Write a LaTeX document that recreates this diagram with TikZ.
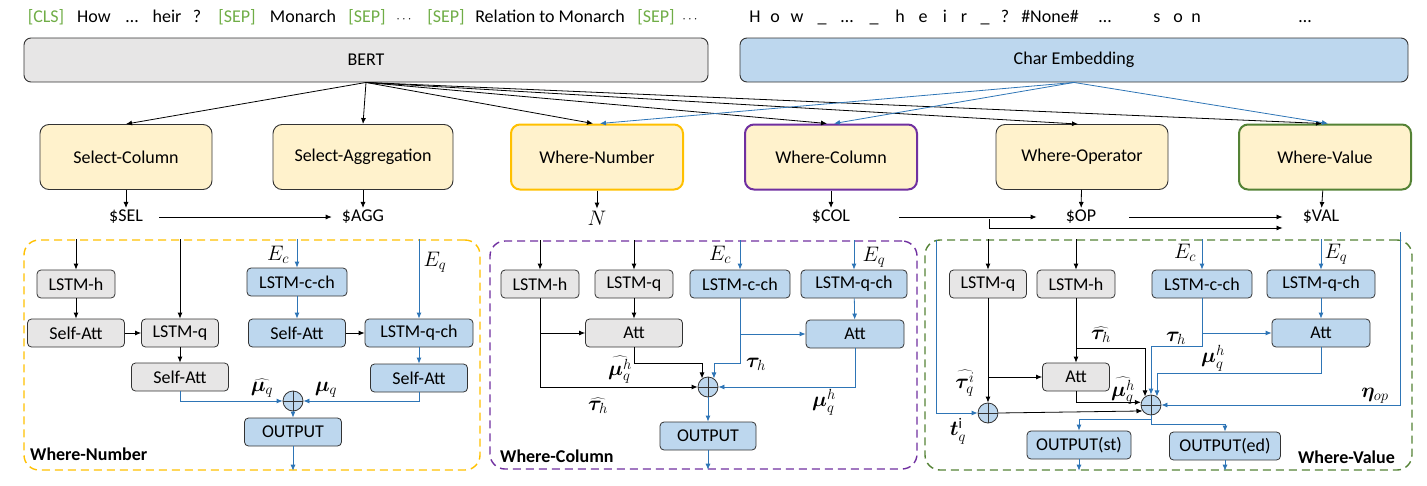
\documentclass[tikz,border=0pt]{standalone}
\usepackage{fix-cm}
\usepackage{fontspec}
\setmainfont{Carlito}
\usepackage{bm}
\usepackage{xcolor}
\usepackage{tikz}
\usetikzlibrary{arrows.meta,positioning,calc}

\definecolor{modfill}{HTML}{FFF2CC}
\definecolor{boxgray}{HTML}{E7E6E6}
\definecolor{boxblue}{HTML}{BDD7EE}
\definecolor{arrowblue}{HTML}{2E75B6}
\definecolor{wyellow}{HTML}{FFC000}
\definecolor{wpurple}{HTML}{7030A0}
\definecolor{wgreen}{HTML}{548235}
\definecolor{tokgreen}{HTML}{70AD47}

\newcommand{\greentok}[1]{\textcolor{tokgreen}{#1}}
\newcommand{\smalldots}{{\fontsize{13}{15}\selectfont$\cdots$}}

\begin{document}
\begin{tikzpicture}[x=1pt,y=-1pt,
	  every node/.style={font=\fontsize{18}{21}\selectfont,inner sep=2pt},
	  mathlbl/.style={font=\fontsize{21}{24}\selectfont,inner sep=1pt},
	  encoder/.style={draw=black!80,line width=0.9pt,rounded corners=7pt,minimum height=44pt},
	  module/.style={draw=black!80,line width=0.9pt,fill=modfill,rounded corners=9pt,minimum width=172pt,minimum height=65pt},
	  gbox/.style={draw=black!80,line width=0.8pt,fill=boxgray,rounded corners=4pt,minimum height=28pt},
	  bbox/.style={gbox,fill=boxblue},
	  panel/.style={dashed,dash pattern=on 8pt off 5pt,line width=1.4pt,rounded corners=15pt},
	  oplus/.style={circle,draw=black!80,line width=0.8pt,fill=boxblue,minimum size=20pt,inner sep=0pt,
	    path picture={\draw[line width=0.8pt,black!80] (path picture bounding box.north) -- (path picture bounding box.south)
	      (path picture bounding box.west) -- (path picture bounding box.east);}},
	  link/.style={-{Latex[length=6pt,width=5pt]},line width=0.8pt,black},
	  bluelink/.style={link,arrowblue}]

	  \useasboundingbox (0,0) rectangle (1427,485);

	  % input tokens
	  \foreach \x/\t [count=\i] in {46/{\greentok{[CLS]}},94/How,132/\dots,167/heir,197/?,237/{\greentok{[SEP]}},
	    303/Monarch,367/{\greentok{[SEP]}},404/\smalldots,446/{\greentok{[SEP]}},550/Relation to Monarch,
	    656/{\greentok{[SEP]}},690/\smalldots}
	    \node[anchor=base] (tok\i) at (\x,22) {\t};
	  \foreach \x/\t [count=\i] in {755/H,775/o,797/w,822/\_,847/\dots,874/\_,900/h,923/e,945/i,964/r,985/\_,
	    1005/?,1050/\#None\#,1105/\dots,1157/s,1178/o,1196/n,1305/\dots}
	    \node[anchor=base] (chr\i) at (\x,22) {\t};

	  % encoders
	  \node[encoder,fill=boxgray,minimum width=684pt] (bert) at (366,60) {BERT};
	  \node[encoder,fill=boxblue,minimum width=668pt] (charemb) at (1074,60) {Char Embedding};

	  % sub-modules
	  \node[module] (selcol) at (126,157) {Select-Column};
	  \node[module,minimum width=180pt] (selagg) at (363,157) {Select-Aggregation};
	  \node[module,draw=wyellow,line width=2pt] (wnum) at (597,157) {Where-Number};
	  \node[module,draw=wpurple,line width=2pt] (wcol) at (831,157) {Where-Column};
	  \node[module] (wop) at (1082,157) {Where-Operator};
	  \node[module,draw=wgreen,line width=2pt] (wval) at (1325,157) {Where-Value};

	  \draw[link] (bert.south) -- (selcol.north);
	  \draw[link] (bert.south) -- (selagg.north);
	  \draw[link] (bert.south) -- ([xshift=-4pt]wnum.north);
	  \draw[link] (bert.south) -- ([xshift=-4pt]wcol.north);
	  \draw[link] (bert.south) -- ([xshift=-4pt]wop.north);
	  \draw[link] (bert.south) -- ([xshift=-3pt]wval.north);
	  \draw[bluelink] (charemb.south) -- ([xshift=3pt]wnum.north);
	  \draw[bluelink] (charemb.south) -- ([xshift=3pt]wcol.north);
	  \draw[bluelink] (charemb.south) -- ([xshift=3pt]wval.north);

	  % outputs of the sub-modules
	  \node (osel) at (126,217) {\$SEL};
	  \node (oagg) at (363,217) {\$AGG};
	  \node[mathlbl,inner sep=2pt] (onum) at (597,218) {$N$};
	  \node (ocol) at (831,217) {\$COL};
	  \node (oop) at (1081,217) {\$OP};
	  \node (oval) at (1321,217) {\$VAL};
	  \foreach \m/\o in {selcol/osel,selagg/oagg,wnum/onum,wcol/ocol,wop/oop,wval/oval}
	    \draw[link] (\m) -- (\o);
	  \draw[link,shorten <=14pt,shorten >=8pt] (osel) -- (oagg);
	  \draw[link,shorten <=47pt,shorten >=27pt] (ocol) -- (oop);
	  \draw[link,shorten <=31pt,shorten >=18pt] (oop) -- (oval);
	  \coordinate (opbr) at (989,219);
	  \draw[link,shorten >=18pt] (opbr) |- ([yshift=-11pt]oval.west);

	  % panels
	  \node[panel,draw=wyellow,minimum width=456pt,minimum height=230pt] (p1) at (252,355) {};
	  \node[panel,draw=wpurple,minimum width=427pt,minimum height=228pt] (p2) at (703.5,355) {};
	  \node[panel,draw=wgreen,minimum width=487pt,minimum height=230pt] (p3) at (1168.5,355) {};
	  \node[anchor=west,font=\fontsize{18}{21}\selectfont\bfseries] (p1name) at (28,454) {Where-Number};
	  \node[anchor=west,font=\fontsize{18}{21}\selectfont\bfseries] (p2name) at (498,456) {Where-Column};
	  \node[anchor=east,font=\fontsize{18}{21}\selectfont\bfseries] (p3name) at (1397,457) {Where-Value};

	  % Where-Number
	  \node[gbox,minimum width=78pt] (nlh) at (76,284) {LSTM-h};
	  \node[gbox,minimum width=97pt] (nsa1) at (76,333) {Self-Att};
	  \node[gbox,minimum width=77pt] (nlq) at (180,333) {LSTM-q};
	  \node[gbox,minimum width=97pt] (nsa2) at (180,377) {Self-Att};
	  \node[bbox,minimum width=100pt] (nlc) at (297,282) {LSTM-c-ch};
	  \node[bbox,minimum width=97pt] (nsa3) at (297,333) {Self-Att};
	  \node[bbox,minimum width=108pt] (nlqc) at (419,333) {LSTM-q-ch};
	  \node[bbox,minimum width=97pt] (nsa4) at (419,378) {Self-Att};
	  \node[oplus] (nplus) at (293,401) {};
	  \node[bbox,minimum width=97pt] (nout) at (293,432) {OUTPUT};

	  \draw[link] (nlh |- p1.north) -- (nlh);
	  \draw[link] (nlq |- p1.north) -- (nlq);
	  \draw[bluelink] (nlc |- p1.north) -- (nlc);
	  \draw[bluelink] (nlqc |- p1.north) -- (nlqc);
	  \node[mathlbl] (nec) at (278,255) {$E_c$};
	  \node[mathlbl] (neq) at (435,262) {$E_q$};
	  \draw[link] (nlh) -- (nsa1);
	  \draw[link] (nsa1) -- (nlq);
	  \draw[link] (nlq) -- (nsa2);
	  \draw[bluelink] (nlc) -- (nsa3);
	  \draw[link] (nsa3) -- (nlqc);
	  \draw[bluelink] (nlqc) -- (nsa4);
	  \draw[bluelink] (nsa2.south) |- (nplus.west);
	  \draw[bluelink] (nsa4.south) |- (nplus.east);
	  \draw[bluelink] (nplus) -- (nout);
	  \draw[bluelink] (nout.south) -- (nout |- p1.south);
	  \node[mathlbl] (nmuh) at (262,388) {$\widehat{\bm{\mu}_q}$};
	  \node[mathlbl] (nmu) at (326,390) {$\bm{\mu}_q$};

	  % Where-Column
	  \node[gbox,minimum width=78pt] (clh) at (540,284) {LSTM-h};
	  \node[gbox,minimum width=78pt] (clq) at (634,284) {LSTM-q};
	  \node[bbox,minimum width=100pt] (clc) at (740,284) {LSTM-c-ch};
	  \node[bbox,minimum width=106pt] (clqc) at (854,284) {LSTM-q-ch};
	  \node[gbox,minimum width=97pt] (catt1) at (634,333) {Att};
	  \node[bbox,minimum width=98pt] (catt2) at (855,334) {Att};
	  \node[oplus] (cplus) at (708,387) {};
	  \node[bbox,minimum width=96pt] (cout) at (708,436) {OUTPUT};

	  \draw[link] (clh |- p2.north) -- (clh);
	  \draw[link] (clq |- p2.north) -- (clq);
	  \draw[bluelink] (clc |- p2.north) -- (clc);
	  \draw[bluelink] (clqc |- p2.north) -- (clqc);
	  \node[mathlbl] (cec) at (720,255) {$E_c$};
	  \node[mathlbl] (ceq) at (874,257) {$E_q$};
	  \draw[link] (clh.south) |- (cplus.west);
	  \draw[link] (clh |- catt1) -- (catt1.west);
	  \draw[link] (clq) -- (catt1);
	  \draw[link] (catt1.south) -- ++(0,16) -| (cplus.125);
	  \draw[bluelink] (clc.south) |- (catt2.west);
	  \draw[bluelink] (clc.south) -- ++(0,65) -| (cplus.55);
	  \draw[bluelink] (clqc) -- (catt2);
	  \draw[bluelink] (catt2.south) |- (cplus.east);
	  \draw[bluelink] (cplus) -- (cout);
	  \draw[bluelink] (cout.south) -- (cout |- p2.south);
	  \node[mathlbl] (cmuh) at (620,370) {$\widehat{\bm{\mu}_q^h}$};
	  \node[mathlbl] (ctau) at (756,364) {$\bm{\tau}_h$};
	  \node[mathlbl] (ctauh) at (598,406) {$\widehat{\bm{\tau}_h}$};
	  \node[mathlbl] (cmu) at (824,402) {$\bm{\mu}_q^h$};

	  % Where-Value
	  \node[gbox,minimum width=77pt] (vlq) at (988,284) {LSTM-q};
	  \node[gbox,minimum width=78pt] (vlh) at (1076,284) {LSTM-h};
	  \node[bbox,minimum width=100pt] (vlc) at (1202,284) {LSTM-c-ch};
	  \node[bbox,minimum width=108pt] (vlqc) at (1321,284) {LSTM-q-ch};
	  \node[bbox,minimum width=98pt] (vatt2) at (1321,333) {Att};
	  \node[gbox,minimum width=67pt] (vatt1) at (1076,377) {Att};
	  \node[oplus] (vsplus) at (988,413) {};
	  \node[oplus] (vbplus) at (1151,405) {};
	  \node[bbox,minimum width=104pt] (vst) at (1079,445) {OUTPUT(st)};
	  \node[bbox,minimum width=111pt] (ved) at (1225,446) {OUTPUT(ed)};

	  \draw[link] (vlq |- p3.north) -- (vlq);
	  \draw[link] (vlh |- p3.north) -- (vlh);
	  \draw[bluelink] (vlc |- p3.north) -- (vlc);
	  \draw[bluelink] (vlqc |- p3.north) -- (vlqc);
	  \node[mathlbl] (vec) at (1185,253) {$E_c$};
	  \node[mathlbl] (veq) at (1336,254) {$E_q$};
	  \coordinate (tqin) at (936,240);
	  \coordinate (etain) at (1400,232);
	  \draw[bluelink] (tqin) |- (vsplus.west);
	  \draw[link] (vlq) -- (vsplus);
	  \draw[link] (vlq |- vatt1) -- (vatt1.west);
	  \draw[link] (vlh) -- (vatt1);
	  \draw[link] (vlh.south) ++(0,50) -| (vbplus.125);
	  \draw[link] (vatt1.south) |- (vbplus.165);
	  \draw[link] (vsplus.east) -- (vbplus.215);
	  \draw[bluelink] (vlc.south) |- (vatt2.west);
	  \draw[bluelink] (vlc.south) -- ++(0,48) -| (vbplus.north);
	  \draw[bluelink] (vlqc) -- (vatt2);
	  \draw[bluelink] (vatt2.south) -- ++(0,26) -| (vbplus.55);
	  \draw[bluelink] (etain) |- (vbplus.east);
	  \draw[bluelink] (vbplus.south) -- ++(0,4) -| (vst.north);
	  \draw[bluelink] (vbplus.south) -- ++(0,9) -| (ved.north);
	  \draw[bluelink] (vst.south) -- (vst |- p3.south);
	  \draw[bluelink] (ved.south) -- (ved |- p3.south);
	  \node[mathlbl] (vtauq) at (965,383) {$\widehat{\bm{\tau}_q^i}$};
	  \node[mathlbl] (vtq) at (958,431) {$\bm{t}_q^{\mathrm{i}}$};
	  \node[mathlbl] (vtauh) at (1101,335) {$\widehat{\bm{\tau}_h}$};
	  \node[mathlbl] (vtau) at (1176,338) {$\bm{\tau}_h$};
	  \node[mathlbl] (vmu) at (1213,358) {$\bm{\mu}_q^h$};
	  \node[mathlbl] (vmuh) at (1123,391) {$\widehat{\bm{\mu}_q^h}$};
	  \node[mathlbl] (veta) at (1375,396) {$\bm{\eta}_{op}$};

\end{tikzpicture}
\end{document}
